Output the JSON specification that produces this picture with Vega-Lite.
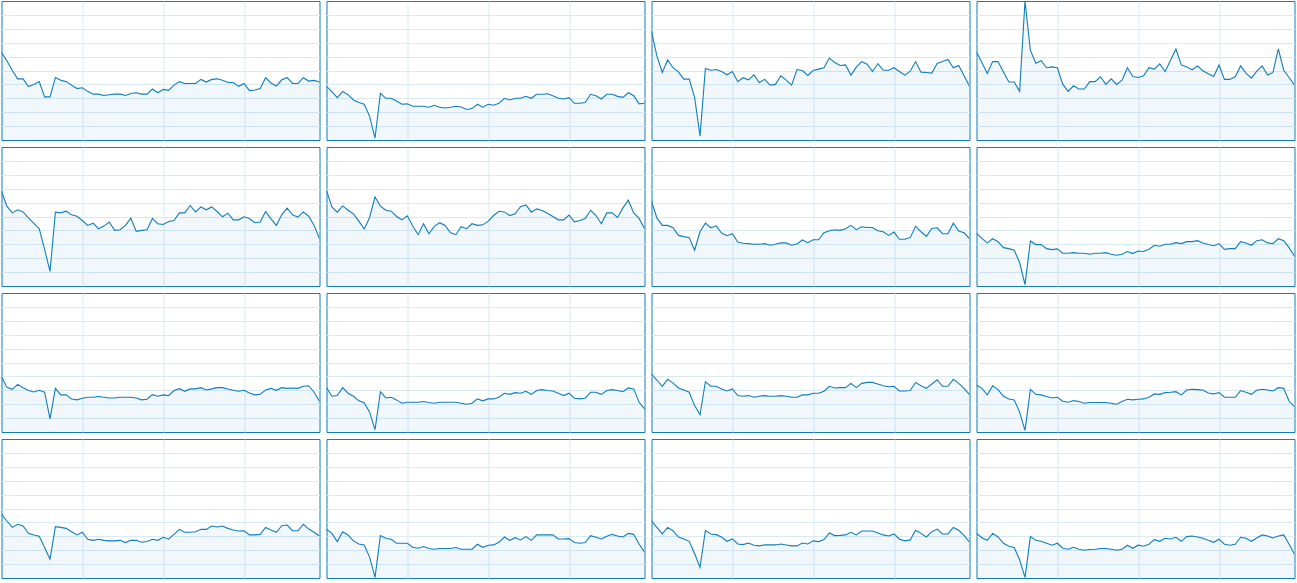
{
"$schema": "https://vega.github.io/schema/vega-lite/v6.json",
"background": "white",
"padding": {"left": 0.5, "top": 0, "right": 0, "bottom": 0},
"data": {"values": [
{"cpu":1,"t":0,"v":63},{"cpu":1,"t":1,"v":57},{"cpu":1,"t":2,"v":50},{"cpu":1,"t":3,"v":44},{"cpu":1,"t":4,"v":44},{"cpu":1,"t":5,"v":38.5},{"cpu":1,"t":6,"v":40},{"cpu":1,"t":7,"v":42},{"cpu":1,"t":8,"v":31},{"cpu":1,"t":9,"v":31},
{"cpu":1,"t":10,"v":45},{"cpu":1,"t":11,"v":43},{"cpu":1,"t":12,"v":42},{"cpu":1,"t":13,"v":39.5},{"cpu":1,"t":14,"v":37},{"cpu":1,"t":15,"v":37.6},{"cpu":1,"t":16,"v":35},{"cpu":1,"t":17,"v":33},{"cpu":1,"t":18,"v":33},{"cpu":1,"t":19,"v":32},
{"cpu":1,"t":20,"v":32.6},{"cpu":1,"t":21,"v":33},{"cpu":1,"t":22,"v":33},{"cpu":1,"t":23,"v":32},{"cpu":1,"t":24,"v":33.5},{"cpu":1,"t":25,"v":34},{"cpu":1,"t":26,"v":33},{"cpu":1,"t":27,"v":33},{"cpu":1,"t":28,"v":36.7},{"cpu":1,"t":29,"v":34},
{"cpu":1,"t":30,"v":36.4},{"cpu":1,"t":31,"v":35.7},{"cpu":1,"t":32,"v":39.5},{"cpu":1,"t":33,"v":42},{"cpu":1,"t":34,"v":40.7},{"cpu":1,"t":35,"v":40.7},{"cpu":1,"t":36,"v":40.7},{"cpu":1,"t":37,"v":43.6},{"cpu":1,"t":38,"v":41.7},{"cpu":1,"t":39,"v":43.6},
{"cpu":1,"t":40,"v":44},{"cpu":1,"t":41,"v":43},{"cpu":1,"t":42,"v":41.4},{"cpu":1,"t":43,"v":41.4},{"cpu":1,"t":44,"v":38.6},{"cpu":1,"t":45,"v":40.7},{"cpu":1,"t":46,"v":35.5},{"cpu":1,"t":47,"v":36},{"cpu":1,"t":48,"v":37},{"cpu":1,"t":49,"v":44.8},
{"cpu":1,"t":50,"v":41},{"cpu":1,"t":51,"v":38.8},{"cpu":1,"t":52,"v":43.3},{"cpu":1,"t":53,"v":44.8},{"cpu":1,"t":54,"v":40.7},{"cpu":1,"t":55,"v":40.7},{"cpu":1,"t":56,"v":44.8},{"cpu":1,"t":57,"v":42.4},{"cpu":1,"t":58,"v":42.9},{"cpu":1,"t":59,"v":41.7},
{"cpu":2,"t":0,"v":38.6},{"cpu":2,"t":1,"v":34.8},{"cpu":2,"t":2,"v":30.5},{"cpu":2,"t":3,"v":35},{"cpu":2,"t":4,"v":32.6},{"cpu":2,"t":5,"v":28.8},{"cpu":2,"t":6,"v":27},{"cpu":2,"t":7,"v":25.7},{"cpu":2,"t":8,"v":17},{"cpu":2,"t":9,"v":1.4},
{"cpu":2,"t":10,"v":33.6},{"cpu":2,"t":11,"v":30},{"cpu":2,"t":12,"v":30},{"cpu":2,"t":13,"v":28},{"cpu":2,"t":14,"v":25.7},{"cpu":2,"t":15,"v":26},{"cpu":2,"t":16,"v":24.3},{"cpu":2,"t":17,"v":24.3},{"cpu":2,"t":18,"v":24.3},{"cpu":2,"t":19,"v":23.6},
{"cpu":2,"t":20,"v":25},{"cpu":2,"t":21,"v":23.6},{"cpu":2,"t":22,"v":23},{"cpu":2,"t":23,"v":23.6},{"cpu":2,"t":24,"v":24.3},{"cpu":2,"t":25,"v":23.8},{"cpu":2,"t":26,"v":22},{"cpu":2,"t":27,"v":22.6},{"cpu":2,"t":28,"v":25.7},{"cpu":2,"t":29,"v":23.6},
{"cpu":2,"t":30,"v":25.7},{"cpu":2,"t":31,"v":25},{"cpu":2,"t":32,"v":26.4},{"cpu":2,"t":33,"v":30},{"cpu":2,"t":34,"v":28.8},{"cpu":2,"t":35,"v":30},{"cpu":2,"t":36,"v":30},{"cpu":2,"t":37,"v":31.4},{"cpu":2,"t":38,"v":30},{"cpu":2,"t":39,"v":32.9},
{"cpu":2,"t":40,"v":32.9},{"cpu":2,"t":41,"v":33.3},{"cpu":2,"t":42,"v":31.9},{"cpu":2,"t":43,"v":30},{"cpu":2,"t":44,"v":29.5},{"cpu":2,"t":45,"v":30.5},{"cpu":2,"t":46,"v":26.4},{"cpu":2,"t":47,"v":26.4},{"cpu":2,"t":48,"v":27},{"cpu":2,"t":49,"v":32.9},
{"cpu":2,"t":50,"v":31.9},{"cpu":2,"t":51,"v":29.5},{"cpu":2,"t":52,"v":32.9},{"cpu":2,"t":53,"v":32.9},{"cpu":2,"t":54,"v":31.4},{"cpu":2,"t":55,"v":30.7},{"cpu":2,"t":56,"v":34},{"cpu":2,"t":57,"v":31.9},{"cpu":2,"t":58,"v":26},{"cpu":2,"t":59,"v":26.4},
{"cpu":3,"t":0,"v":78},{"cpu":3,"t":1,"v":60.5},{"cpu":3,"t":2,"v":48.6},{"cpu":3,"t":3,"v":57.6},{"cpu":3,"t":4,"v":52},{"cpu":3,"t":5,"v":49},{"cpu":3,"t":6,"v":43.8},{"cpu":3,"t":7,"v":43.8},{"cpu":3,"t":8,"v":30.7},{"cpu":3,"t":9,"v":2.9},
{"cpu":3,"t":10,"v":51.4},{"cpu":3,"t":11,"v":50.2},{"cpu":3,"t":12,"v":50.7},{"cpu":3,"t":13,"v":49.3},{"cpu":3,"t":14,"v":46.9},{"cpu":3,"t":15,"v":49.3},{"cpu":3,"t":16,"v":41.9},{"cpu":3,"t":17,"v":44.8},{"cpu":3,"t":18,"v":43.3},{"cpu":3,"t":19,"v":46.9},
{"cpu":3,"t":20,"v":41.4},{"cpu":3,"t":21,"v":43.6},{"cpu":3,"t":22,"v":39.5},{"cpu":3,"t":23,"v":40},{"cpu":3,"t":24,"v":46.2},{"cpu":3,"t":25,"v":43.1},{"cpu":3,"t":26,"v":39.5},{"cpu":3,"t":27,"v":50.7},{"cpu":3,"t":28,"v":50},{"cpu":3,"t":29,"v":46.4},
{"cpu":3,"t":30,"v":50},{"cpu":3,"t":31,"v":51},{"cpu":3,"t":32,"v":52},{"cpu":3,"t":33,"v":59},{"cpu":3,"t":34,"v":55.7},{"cpu":3,"t":35,"v":53.6},{"cpu":3,"t":36,"v":54},{"cpu":3,"t":37,"v":46.7},{"cpu":3,"t":38,"v":52.4},{"cpu":3,"t":39,"v":56.4},
{"cpu":3,"t":40,"v":54.5},{"cpu":3,"t":41,"v":49.3},{"cpu":3,"t":42,"v":55},{"cpu":3,"t":43,"v":50.2},{"cpu":3,"t":44,"v":50.2},{"cpu":3,"t":45,"v":52},{"cpu":3,"t":46,"v":49.3},{"cpu":3,"t":47,"v":46.7},{"cpu":3,"t":48,"v":49.5},{"cpu":3,"t":49,"v":56.4},
{"cpu":3,"t":50,"v":48.8},{"cpu":3,"t":51,"v":48.6},{"cpu":3,"t":52,"v":48.1},{"cpu":3,"t":53,"v":55},{"cpu":3,"t":54,"v":56.4},{"cpu":3,"t":55,"v":57.9},{"cpu":3,"t":56,"v":52},{"cpu":3,"t":57,"v":53.6},{"cpu":3,"t":58,"v":46.2},{"cpu":3,"t":59,"v":38.6},
{"cpu":4,"t":0,"v":63.3},{"cpu":4,"t":1,"v":55.7},{"cpu":4,"t":2,"v":47.9},{"cpu":4,"t":3,"v":56.4},{"cpu":4,"t":4,"v":56.4},{"cpu":4,"t":5,"v":49},{"cpu":4,"t":6,"v":41.7},{"cpu":4,"t":7,"v":41.7},{"cpu":4,"t":8,"v":35},{"cpu":4,"t":9,"v":100},
{"cpu":4,"t":10,"v":64.5},{"cpu":4,"t":11,"v":55.2},{"cpu":4,"t":12,"v":57},{"cpu":4,"t":13,"v":52},{"cpu":4,"t":14,"v":52.6},{"cpu":4,"t":15,"v":52},{"cpu":4,"t":16,"v":40.2},{"cpu":4,"t":17,"v":35},{"cpu":4,"t":18,"v":39},{"cpu":4,"t":19,"v":36.7},
{"cpu":4,"t":20,"v":36.7},{"cpu":4,"t":21,"v":42},{"cpu":4,"t":22,"v":42},{"cpu":4,"t":23,"v":45.5},{"cpu":4,"t":24,"v":40},{"cpu":4,"t":25,"v":44},{"cpu":4,"t":26,"v":40},{"cpu":4,"t":27,"v":43},{"cpu":4,"t":28,"v":52},{"cpu":4,"t":29,"v":45.7},
{"cpu":4,"t":30,"v":45},{"cpu":4,"t":31,"v":46.2},{"cpu":4,"t":32,"v":52},{"cpu":4,"t":33,"v":51},{"cpu":4,"t":34,"v":54.8},{"cpu":4,"t":35,"v":49.3},{"cpu":4,"t":36,"v":57.4},{"cpu":4,"t":37,"v":65.5},{"cpu":4,"t":38,"v":54},{"cpu":4,"t":39,"v":52.6},
{"cpu":4,"t":40,"v":50.5},{"cpu":4,"t":41,"v":53.3},{"cpu":4,"t":42,"v":49.8},{"cpu":4,"t":43,"v":47.6},{"cpu":4,"t":44,"v":45.7},{"cpu":4,"t":45,"v":54},{"cpu":4,"t":46,"v":43.6},{"cpu":4,"t":47,"v":43.6},{"cpu":4,"t":48,"v":45.5},{"cpu":4,"t":49,"v":53.3},
{"cpu":4,"t":50,"v":48.1},{"cpu":4,"t":51,"v":44.5},{"cpu":4,"t":52,"v":49.5},{"cpu":4,"t":53,"v":53.3},{"cpu":4,"t":54,"v":46.7},{"cpu":4,"t":55,"v":48.6},{"cpu":4,"t":56,"v":65.5},{"cpu":4,"t":57,"v":50.2},{"cpu":4,"t":58,"v":45},{"cpu":4,"t":59,"v":39.5},
{"cpu":5,"t":0,"v":68},{"cpu":5,"t":1,"v":57.4},{"cpu":5,"t":2,"v":52.6},{"cpu":5,"t":3,"v":54.8},{"cpu":5,"t":4,"v":53.3},{"cpu":5,"t":5,"v":49},{"cpu":5,"t":6,"v":45},{"cpu":5,"t":7,"v":41.2},{"cpu":5,"t":8,"v":26.4},{"cpu":5,"t":9,"v":10.5},
{"cpu":5,"t":10,"v":53.1},{"cpu":5,"t":11,"v":52.6},{"cpu":5,"t":12,"v":53.8},{"cpu":5,"t":13,"v":51.2},{"cpu":5,"t":14,"v":50.2},{"cpu":5,"t":15,"v":47.1},{"cpu":5,"t":16,"v":43.6},{"cpu":5,"t":17,"v":45.2},{"cpu":5,"t":18,"v":41.2},{"cpu":5,"t":19,"v":43.1},
{"cpu":5,"t":20,"v":46},{"cpu":5,"t":21,"v":40},{"cpu":5,"t":22,"v":40.5},{"cpu":5,"t":23,"v":43.6},{"cpu":5,"t":24,"v":48.8},{"cpu":5,"t":25,"v":39.3},{"cpu":5,"t":26,"v":40},{"cpu":5,"t":27,"v":40.5},{"cpu":5,"t":28,"v":48.6},{"cpu":5,"t":29,"v":44.8},
{"cpu":5,"t":30,"v":44.3},{"cpu":5,"t":31,"v":46.4},{"cpu":5,"t":32,"v":47.1},{"cpu":5,"t":33,"v":52.6},{"cpu":5,"t":34,"v":52.6},{"cpu":5,"t":35,"v":57.9},{"cpu":5,"t":36,"v":53.3},{"cpu":5,"t":37,"v":56.9},{"cpu":5,"t":38,"v":54.8},{"cpu":5,"t":39,"v":56.9},
{"cpu":5,"t":40,"v":53.6},{"cpu":5,"t":41,"v":49.8},{"cpu":5,"t":42,"v":52.4},{"cpu":5,"t":43,"v":47.6},{"cpu":5,"t":44,"v":47.6},{"cpu":5,"t":45,"v":49.8},{"cpu":5,"t":46,"v":48.6},{"cpu":5,"t":47,"v":45.5},{"cpu":5,"t":48,"v":46},{"cpu":5,"t":49,"v":53.6},
{"cpu":5,"t":50,"v":48.3},{"cpu":5,"t":51,"v":43.6},{"cpu":5,"t":52,"v":51.4},{"cpu":5,"t":53,"v":56},{"cpu":5,"t":54,"v":51.2},{"cpu":5,"t":55,"v":49.5},{"cpu":5,"t":56,"v":53.3},{"cpu":5,"t":57,"v":50.2},{"cpu":5,"t":58,"v":43.6},{"cpu":5,"t":59,"v":34},
{"cpu":6,"t":0,"v":68.8},{"cpu":6,"t":1,"v":56.9},{"cpu":6,"t":2,"v":53.1},{"cpu":6,"t":3,"v":57.6},{"cpu":6,"t":4,"v":54.5},{"cpu":6,"t":5,"v":51.9},{"cpu":6,"t":6,"v":46.7},{"cpu":6,"t":7,"v":41},{"cpu":6,"t":8,"v":49.3},{"cpu":6,"t":9,"v":64},
{"cpu":6,"t":10,"v":57.4},{"cpu":6,"t":11,"v":54.5},{"cpu":6,"t":12,"v":53.8},{"cpu":6,"t":13,"v":50},{"cpu":6,"t":14,"v":47.6},{"cpu":6,"t":15,"v":50.5},{"cpu":6,"t":16,"v":43.1},{"cpu":6,"t":17,"v":36.9},{"cpu":6,"t":18,"v":44.8},{"cpu":6,"t":19,"v":37.6},
{"cpu":6,"t":20,"v":42.9},{"cpu":6,"t":21,"v":45.5},{"cpu":6,"t":22,"v":43.6},{"cpu":6,"t":23,"v":38.3},{"cpu":6,"t":24,"v":36.9},{"cpu":6,"t":25,"v":42.6},{"cpu":6,"t":26,"v":41.2},{"cpu":6,"t":27,"v":44.8},{"cpu":6,"t":28,"v":43.6},{"cpu":6,"t":29,"v":44},
{"cpu":6,"t":30,"v":46.7},{"cpu":6,"t":31,"v":50.7},{"cpu":6,"t":32,"v":53.8},{"cpu":6,"t":33,"v":53.3},{"cpu":6,"t":34,"v":50.7},{"cpu":6,"t":35,"v":51.9},{"cpu":6,"t":36,"v":57.1},{"cpu":6,"t":37,"v":58.3},{"cpu":6,"t":38,"v":53.1},{"cpu":6,"t":39,"v":55.5},
{"cpu":6,"t":40,"v":54.3},{"cpu":6,"t":41,"v":52.4},{"cpu":6,"t":42,"v":50},{"cpu":6,"t":43,"v":47.6},{"cpu":6,"t":44,"v":47.6},{"cpu":6,"t":45,"v":51},{"cpu":6,"t":46,"v":46.2},{"cpu":6,"t":47,"v":47.1},{"cpu":6,"t":48,"v":48.6},{"cpu":6,"t":49,"v":54.5},
{"cpu":6,"t":50,"v":50.7},{"cpu":6,"t":51,"v":44.8},{"cpu":6,"t":52,"v":52.6},{"cpu":6,"t":53,"v":52.6},{"cpu":6,"t":54,"v":49.3},{"cpu":6,"t":55,"v":56.2},{"cpu":6,"t":56,"v":61.7},{"cpu":6,"t":57,"v":52.6},{"cpu":6,"t":58,"v":48.6},{"cpu":6,"t":59,"v":41.2},
{"cpu":7,"t":0,"v":61},{"cpu":7,"t":1,"v":49},{"cpu":7,"t":2,"v":43.6},{"cpu":7,"t":3,"v":43.6},{"cpu":7,"t":4,"v":41.9},{"cpu":7,"t":5,"v":36.4},{"cpu":7,"t":6,"v":35.5},{"cpu":7,"t":7,"v":34.8},{"cpu":7,"t":8,"v":25.7},{"cpu":7,"t":9,"v":39},
{"cpu":7,"t":10,"v":45.2},{"cpu":7,"t":11,"v":41.9},{"cpu":7,"t":12,"v":43.3},{"cpu":7,"t":13,"v":38.1},{"cpu":7,"t":14,"v":36.2},{"cpu":7,"t":15,"v":37.6},{"cpu":7,"t":16,"v":31.7},{"cpu":7,"t":17,"v":30.7},{"cpu":7,"t":18,"v":30.5},{"cpu":7,"t":19,"v":30},
{"cpu":7,"t":20,"v":30},{"cpu":7,"t":21,"v":30.5},{"cpu":7,"t":22,"v":29.3},{"cpu":7,"t":23,"v":30},{"cpu":7,"t":24,"v":31},{"cpu":7,"t":25,"v":31},{"cpu":7,"t":26,"v":29.3},{"cpu":7,"t":27,"v":30.2},{"cpu":7,"t":28,"v":33.1},{"cpu":7,"t":29,"v":31.2},
{"cpu":7,"t":30,"v":33.3},{"cpu":7,"t":31,"v":33.3},{"cpu":7,"t":32,"v":38.3},{"cpu":7,"t":33,"v":39.8},{"cpu":7,"t":34,"v":40.5},{"cpu":7,"t":35,"v":40},{"cpu":7,"t":36,"v":41.2},{"cpu":7,"t":37,"v":43.6},{"cpu":7,"t":38,"v":40.5},{"cpu":7,"t":39,"v":42.6},
{"cpu":7,"t":40,"v":42.1},{"cpu":7,"t":41,"v":42.1},{"cpu":7,"t":42,"v":39.8},{"cpu":7,"t":43,"v":39},{"cpu":7,"t":44,"v":36.4},{"cpu":7,"t":45,"v":38.8},{"cpu":7,"t":46,"v":33.6},{"cpu":7,"t":47,"v":33.6},{"cpu":7,"t":48,"v":34.8},{"cpu":7,"t":49,"v":43.1},
{"cpu":7,"t":50,"v":39},{"cpu":7,"t":51,"v":35.7},{"cpu":7,"t":52,"v":41.4},{"cpu":7,"t":53,"v":41.9},{"cpu":7,"t":54,"v":37.6},{"cpu":7,"t":55,"v":37.6},{"cpu":7,"t":56,"v":45.2},{"cpu":7,"t":57,"v":39.5},{"cpu":7,"t":58,"v":38.3},{"cpu":7,"t":59,"v":34},
{"cpu":8,"t":0,"v":37.9},{"cpu":8,"t":1,"v":34.3},{"cpu":8,"t":2,"v":31},{"cpu":8,"t":3,"v":34},{"cpu":8,"t":4,"v":31.9},{"cpu":8,"t":5,"v":27.6},{"cpu":8,"t":6,"v":26.9},{"cpu":8,"t":7,"v":25.7},{"cpu":8,"t":8,"v":16.9},{"cpu":8,"t":9,"v":1},
{"cpu":8,"t":10,"v":32.4},{"cpu":8,"t":11,"v":29.8},{"cpu":8,"t":12,"v":29.8},{"cpu":8,"t":13,"v":26.9},{"cpu":8,"t":14,"v":26.2},{"cpu":8,"t":15,"v":26.7},{"cpu":8,"t":16,"v":23.6},{"cpu":8,"t":17,"v":23.6},{"cpu":8,"t":18,"v":24},{"cpu":8,"t":19,"v":23.6},
{"cpu":8,"t":20,"v":23.6},{"cpu":8,"t":21,"v":22.9},{"cpu":8,"t":22,"v":23.6},{"cpu":8,"t":23,"v":23.6},{"cpu":8,"t":24,"v":24},{"cpu":8,"t":25,"v":22.9},{"cpu":8,"t":26,"v":22.1},{"cpu":8,"t":27,"v":22.9},{"cpu":8,"t":28,"v":24.8},{"cpu":8,"t":29,"v":23.3},
{"cpu":8,"t":30,"v":25.2},{"cpu":8,"t":31,"v":24.8},{"cpu":8,"t":32,"v":26.4},{"cpu":8,"t":33,"v":29.3},{"cpu":8,"t":34,"v":28.6},{"cpu":8,"t":35,"v":30},{"cpu":8,"t":36,"v":30},{"cpu":8,"t":37,"v":31.2},{"cpu":8,"t":38,"v":30.5},{"cpu":8,"t":39,"v":31.9},
{"cpu":8,"t":40,"v":31.9},{"cpu":8,"t":41,"v":32.6},{"cpu":8,"t":42,"v":31},{"cpu":8,"t":43,"v":29.8},{"cpu":8,"t":44,"v":29},{"cpu":8,"t":45,"v":30.5},{"cpu":8,"t":46,"v":26.4},{"cpu":8,"t":47,"v":26.9},{"cpu":8,"t":48,"v":26.9},{"cpu":8,"t":49,"v":31.9},
{"cpu":8,"t":50,"v":31},{"cpu":8,"t":51,"v":29.3},{"cpu":8,"t":52,"v":32.6},{"cpu":8,"t":53,"v":33.3},{"cpu":8,"t":54,"v":31},{"cpu":8,"t":55,"v":30.5},{"cpu":8,"t":56,"v":34},{"cpu":8,"t":57,"v":32.6},{"cpu":8,"t":58,"v":27.6},{"cpu":8,"t":59,"v":21.4},
{"cpu":9,"t":0,"v":40},{"cpu":9,"t":1,"v":32.1},{"cpu":9,"t":2,"v":30.7},{"cpu":9,"t":3,"v":34.3},{"cpu":9,"t":4,"v":31.9},{"cpu":9,"t":5,"v":29.8},{"cpu":9,"t":6,"v":28.8},{"cpu":9,"t":7,"v":30},{"cpu":9,"t":8,"v":28.6},{"cpu":9,"t":9,"v":9.5},
{"cpu":9,"t":10,"v":31.4},{"cpu":9,"t":11,"v":26.7},{"cpu":9,"t":12,"v":26.7},{"cpu":9,"t":13,"v":23.8},{"cpu":9,"t":14,"v":23.1},{"cpu":9,"t":15,"v":24.3},{"cpu":9,"t":16,"v":25},{"cpu":9,"t":17,"v":25},{"cpu":9,"t":18,"v":25.5},{"cpu":9,"t":19,"v":25},
{"cpu":9,"t":20,"v":24.5},{"cpu":9,"t":21,"v":24.5},{"cpu":9,"t":22,"v":25},{"cpu":9,"t":23,"v":25},{"cpu":9,"t":24,"v":25},{"cpu":9,"t":25,"v":24.5},{"cpu":9,"t":26,"v":23.1},{"cpu":9,"t":27,"v":23.6},{"cpu":9,"t":28,"v":26.9},{"cpu":9,"t":29,"v":25.7},
{"cpu":9,"t":30,"v":26.7},{"cpu":9,"t":31,"v":26.2},{"cpu":9,"t":32,"v":29.8},{"cpu":9,"t":33,"v":31.2},{"cpu":9,"t":34,"v":29.3},{"cpu":9,"t":35,"v":31},{"cpu":9,"t":36,"v":31},{"cpu":9,"t":37,"v":31.9},{"cpu":9,"t":38,"v":30.2},{"cpu":9,"t":39,"v":31},
{"cpu":9,"t":40,"v":31.9},{"cpu":9,"t":41,"v":31.9},{"cpu":9,"t":42,"v":31},{"cpu":9,"t":43,"v":30},{"cpu":9,"t":44,"v":29.3},{"cpu":9,"t":45,"v":30},{"cpu":9,"t":46,"v":28.1},{"cpu":9,"t":47,"v":26.7},{"cpu":9,"t":48,"v":27.1},{"cpu":9,"t":49,"v":30.2},
{"cpu":9,"t":50,"v":31.4},{"cpu":9,"t":51,"v":30},{"cpu":9,"t":52,"v":31.9},{"cpu":9,"t":53,"v":31.4},{"cpu":9,"t":54,"v":31.7},{"cpu":9,"t":55,"v":31.4},{"cpu":9,"t":56,"v":32.9},{"cpu":9,"t":57,"v":33.3},{"cpu":9,"t":58,"v":28.6},{"cpu":9,"t":59,"v":21.9},
{"cpu":10,"t":0,"v":31.9},{"cpu":10,"t":1,"v":25.7},{"cpu":10,"t":2,"v":26.2},{"cpu":10,"t":3,"v":31.9},{"cpu":10,"t":4,"v":27.9},{"cpu":10,"t":5,"v":25.7},{"cpu":10,"t":6,"v":22.4},{"cpu":10,"t":7,"v":21},{"cpu":10,"t":8,"v":14.3},{"cpu":10,"t":9,"v":1.7},
{"cpu":10,"t":10,"v":29},{"cpu":10,"t":11,"v":24.5},{"cpu":10,"t":12,"v":25},{"cpu":10,"t":13,"v":23.1},{"cpu":10,"t":14,"v":20.7},{"cpu":10,"t":15,"v":21.4},{"cpu":10,"t":16,"v":21.4},{"cpu":10,"t":17,"v":21.4},{"cpu":10,"t":18,"v":21.9},{"cpu":10,"t":19,"v":21.2},
{"cpu":10,"t":20,"v":20.7},{"cpu":10,"t":21,"v":21.4},{"cpu":10,"t":22,"v":21.4},{"cpu":10,"t":23,"v":21.4},{"cpu":10,"t":24,"v":21.4},{"cpu":10,"t":25,"v":20.7},{"cpu":10,"t":26,"v":20},{"cpu":10,"t":27,"v":20.7},{"cpu":10,"t":28,"v":23.8},{"cpu":10,"t":29,"v":22.4},
{"cpu":10,"t":30,"v":23.8},{"cpu":10,"t":31,"v":23.8},{"cpu":10,"t":32,"v":25},{"cpu":10,"t":33,"v":27.9},{"cpu":10,"t":34,"v":27.1},{"cpu":10,"t":35,"v":28.3},{"cpu":10,"t":36,"v":27.9},{"cpu":10,"t":37,"v":29.3},{"cpu":10,"t":38,"v":27.1},{"cpu":10,"t":39,"v":29.8},
{"cpu":10,"t":40,"v":30.5},{"cpu":10,"t":41,"v":29.8},{"cpu":10,"t":42,"v":29.5},{"cpu":10,"t":43,"v":27.9},{"cpu":10,"t":44,"v":26.2},{"cpu":10,"t":45,"v":27.9},{"cpu":10,"t":46,"v":24.3},{"cpu":10,"t":47,"v":23.8},{"cpu":10,"t":48,"v":24.3},{"cpu":10,"t":49,"v":28.6},
{"cpu":10,"t":50,"v":28.6},{"cpu":10,"t":51,"v":27.1},{"cpu":10,"t":52,"v":29.8},{"cpu":10,"t":53,"v":30.5},{"cpu":10,"t":54,"v":29.8},{"cpu":10,"t":55,"v":29},{"cpu":10,"t":56,"v":31.7},{"cpu":10,"t":57,"v":31},{"cpu":10,"t":58,"v":21.4},{"cpu":10,"t":59,"v":16.7},
{"cpu":11,"t":0,"v":41.7},{"cpu":11,"t":1,"v":37.4},{"cpu":11,"t":2,"v":32.9},{"cpu":11,"t":3,"v":37.9},{"cpu":11,"t":4,"v":35.2},{"cpu":11,"t":5,"v":31.7},{"cpu":11,"t":6,"v":30.2},{"cpu":11,"t":7,"v":28.6},{"cpu":11,"t":8,"v":19},{"cpu":11,"t":9,"v":12.4},
{"cpu":11,"t":10,"v":36.2},{"cpu":11,"t":11,"v":32.9},{"cpu":11,"t":12,"v":32.9},{"cpu":11,"t":13,"v":31},{"cpu":11,"t":14,"v":29.5},{"cpu":11,"t":15,"v":31},{"cpu":11,"t":16,"v":26.2},{"cpu":11,"t":17,"v":25.7},{"cpu":11,"t":18,"v":26.2},{"cpu":11,"t":19,"v":25},
{"cpu":11,"t":20,"v":25.7},{"cpu":11,"t":21,"v":26.2},{"cpu":11,"t":22,"v":25.7},{"cpu":11,"t":23,"v":25.7},{"cpu":11,"t":24,"v":26.2},{"cpu":11,"t":25,"v":25.7},{"cpu":11,"t":26,"v":25},{"cpu":11,"t":27,"v":25},{"cpu":11,"t":28,"v":26.7},{"cpu":11,"t":29,"v":26.7},
{"cpu":11,"t":30,"v":27.9},{"cpu":11,"t":31,"v":27.9},{"cpu":11,"t":32,"v":29.3},{"cpu":11,"t":33,"v":32.9},{"cpu":11,"t":34,"v":31.7},{"cpu":11,"t":35,"v":31.9},{"cpu":11,"t":36,"v":31.9},{"cpu":11,"t":37,"v":35},{"cpu":11,"t":38,"v":31.9},{"cpu":11,"t":39,"v":35},
{"cpu":11,"t":40,"v":35.7},{"cpu":11,"t":41,"v":35.7},{"cpu":11,"t":42,"v":34.5},{"cpu":11,"t":43,"v":33.3},{"cpu":11,"t":44,"v":32.6},{"cpu":11,"t":45,"v":32.9},{"cpu":11,"t":46,"v":29.5},{"cpu":11,"t":47,"v":29.5},{"cpu":11,"t":48,"v":29.8},{"cpu":11,"t":49,"v":35.7},
{"cpu":11,"t":50,"v":33.3},{"cpu":11,"t":51,"v":31.4},{"cpu":11,"t":52,"v":34.5},{"cpu":11,"t":53,"v":37.6},{"cpu":11,"t":54,"v":32.9},{"cpu":11,"t":55,"v":32.9},{"cpu":11,"t":56,"v":37.9},{"cpu":11,"t":57,"v":35},{"cpu":11,"t":58,"v":31.4},{"cpu":11,"t":59,"v":26.9},
{"cpu":12,"t":0,"v":33.8},{"cpu":12,"t":1,"v":31.4},{"cpu":12,"t":2,"v":26.7},{"cpu":12,"t":3,"v":33.3},{"cpu":12,"t":4,"v":30.5},{"cpu":12,"t":5,"v":25.7},{"cpu":12,"t":6,"v":23.8},{"cpu":12,"t":7,"v":23.1},{"cpu":12,"t":8,"v":14.3},{"cpu":12,"t":9,"v":1.2},
{"cpu":12,"t":10,"v":30.7},{"cpu":12,"t":11,"v":27.1},{"cpu":12,"t":12,"v":26.7},{"cpu":12,"t":13,"v":25.5},{"cpu":12,"t":14,"v":24.5},{"cpu":12,"t":15,"v":25},{"cpu":12,"t":16,"v":22.1},{"cpu":12,"t":17,"v":21.4},{"cpu":12,"t":18,"v":22.6},{"cpu":12,"t":19,"v":21.9},
{"cpu":12,"t":20,"v":20.7},{"cpu":12,"t":21,"v":21.2},{"cpu":12,"t":22,"v":21.2},{"cpu":12,"t":23,"v":21.2},{"cpu":12,"t":24,"v":21.2},{"cpu":12,"t":25,"v":20.7},{"cpu":12,"t":26,"v":20},{"cpu":12,"t":27,"v":21.9},{"cpu":12,"t":28,"v":23.6},{"cpu":12,"t":29,"v":23.1},
{"cpu":12,"t":30,"v":23.6},{"cpu":12,"t":31,"v":23.8},{"cpu":12,"t":32,"v":25},{"cpu":12,"t":33,"v":27.4},{"cpu":12,"t":34,"v":27.1},{"cpu":12,"t":35,"v":28.3},{"cpu":12,"t":36,"v":28.6},{"cpu":12,"t":37,"v":29},{"cpu":12,"t":38,"v":26.7},{"cpu":12,"t":39,"v":30.2},
{"cpu":12,"t":40,"v":30.7},{"cpu":12,"t":41,"v":30.5},{"cpu":12,"t":42,"v":30.2},{"cpu":12,"t":43,"v":28.1},{"cpu":12,"t":44,"v":27.4},{"cpu":12,"t":45,"v":28.3},{"cpu":12,"t":46,"v":25},{"cpu":12,"t":47,"v":25},{"cpu":12,"t":48,"v":25},{"cpu":12,"t":49,"v":29.8},
{"cpu":12,"t":50,"v":28.6},{"cpu":12,"t":51,"v":27.1},{"cpu":12,"t":52,"v":30},{"cpu":12,"t":53,"v":30.7},{"cpu":12,"t":54,"v":30.2},{"cpu":12,"t":55,"v":29.5},{"cpu":12,"t":56,"v":31.9},{"cpu":12,"t":57,"v":31.4},{"cpu":12,"t":58,"v":22.1},{"cpu":12,"t":59,"v":18.3},
{"cpu":13,"t":0,"v":46},{"cpu":13,"t":1,"v":41},{"cpu":13,"t":2,"v":36.4},{"cpu":13,"t":3,"v":38.6},{"cpu":13,"t":4,"v":37.4},{"cpu":13,"t":5,"v":32.1},{"cpu":13,"t":6,"v":31},{"cpu":13,"t":7,"v":30},{"cpu":13,"t":8,"v":21.9},{"cpu":13,"t":9,"v":13.6},
{"cpu":13,"t":10,"v":36.9},{"cpu":13,"t":11,"v":36.4},{"cpu":13,"t":12,"v":35.7},{"cpu":13,"t":13,"v":33.3},{"cpu":13,"t":14,"v":31},{"cpu":13,"t":15,"v":32.9},{"cpu":13,"t":16,"v":27.9},{"cpu":13,"t":17,"v":27.1},{"cpu":13,"t":18,"v":27.9},{"cpu":13,"t":19,"v":27.1},
{"cpu":13,"t":20,"v":26.7},{"cpu":13,"t":21,"v":26.7},{"cpu":13,"t":22,"v":27.1},{"cpu":13,"t":23,"v":25.5},{"cpu":13,"t":24,"v":27.1},{"cpu":13,"t":25,"v":27.1},{"cpu":13,"t":26,"v":25.7},{"cpu":13,"t":27,"v":26.2},{"cpu":13,"t":28,"v":27.9},{"cpu":13,"t":29,"v":27.1},
{"cpu":13,"t":30,"v":29.3},{"cpu":13,"t":31,"v":27.9},{"cpu":13,"t":32,"v":31.4},{"cpu":13,"t":33,"v":35},{"cpu":13,"t":34,"v":32.9},{"cpu":13,"t":35,"v":32.9},{"cpu":13,"t":36,"v":33.3},{"cpu":13,"t":37,"v":35},{"cpu":13,"t":38,"v":35},{"cpu":13,"t":39,"v":37.4},
{"cpu":13,"t":40,"v":36.7},{"cpu":13,"t":41,"v":37.4},{"cpu":13,"t":42,"v":35.7},{"cpu":13,"t":43,"v":34.5},{"cpu":13,"t":44,"v":33.8},{"cpu":13,"t":45,"v":34},{"cpu":13,"t":46,"v":31},{"cpu":13,"t":47,"v":31},{"cpu":13,"t":48,"v":31.4},{"cpu":13,"t":49,"v":36.4},
{"cpu":13,"t":50,"v":34.5},{"cpu":13,"t":51,"v":32.9},{"cpu":13,"t":52,"v":37.6},{"cpu":13,"t":53,"v":38.1},{"cpu":13,"t":54,"v":34},{"cpu":13,"t":55,"v":34},{"cpu":13,"t":56,"v":38.6},{"cpu":13,"t":57,"v":35.2},{"cpu":13,"t":58,"v":32.9},{"cpu":13,"t":59,"v":30.2},
{"cpu":14,"t":0,"v":35.2},{"cpu":14,"t":1,"v":32.1},{"cpu":14,"t":2,"v":26.2},{"cpu":14,"t":3,"v":33.3},{"cpu":14,"t":4,"v":31},{"cpu":14,"t":5,"v":26.7},{"cpu":14,"t":6,"v":24.5},{"cpu":14,"t":7,"v":23.8},{"cpu":14,"t":8,"v":15},{"cpu":14,"t":9,"v":0.5},
{"cpu":14,"t":10,"v":30.5},{"cpu":14,"t":11,"v":28.6},{"cpu":14,"t":12,"v":27.9},{"cpu":14,"t":13,"v":25},{"cpu":14,"t":14,"v":25},{"cpu":14,"t":15,"v":25},{"cpu":14,"t":16,"v":22.1},{"cpu":14,"t":17,"v":21.4},{"cpu":14,"t":18,"v":22.6},{"cpu":14,"t":19,"v":21.2},
{"cpu":14,"t":20,"v":20.7},{"cpu":14,"t":21,"v":21.2},{"cpu":14,"t":22,"v":21.2},{"cpu":14,"t":23,"v":21.2},{"cpu":14,"t":24,"v":21.9},{"cpu":14,"t":25,"v":20.7},{"cpu":14,"t":26,"v":20.7},{"cpu":14,"t":27,"v":20.7},{"cpu":14,"t":28,"v":24.3},{"cpu":14,"t":29,"v":22.1},
{"cpu":14,"t":30,"v":23.6},{"cpu":14,"t":31,"v":23.8},{"cpu":14,"t":32,"v":25.7},{"cpu":14,"t":33,"v":29.5},{"cpu":14,"t":34,"v":27.1},{"cpu":14,"t":35,"v":29},{"cpu":14,"t":36,"v":27.4},{"cpu":14,"t":37,"v":29.8},{"cpu":14,"t":38,"v":27.1},{"cpu":14,"t":39,"v":31},
{"cpu":14,"t":40,"v":31},{"cpu":14,"t":41,"v":31},{"cpu":14,"t":42,"v":31},{"cpu":14,"t":43,"v":28.1},{"cpu":14,"t":44,"v":28.1},{"cpu":14,"t":45,"v":28.3},{"cpu":14,"t":46,"v":25.5},{"cpu":14,"t":47,"v":25},{"cpu":14,"t":48,"v":25.5},{"cpu":14,"t":49,"v":30.5},
{"cpu":14,"t":50,"v":29.3},{"cpu":14,"t":51,"v":28.1},{"cpu":14,"t":52,"v":30},{"cpu":14,"t":53,"v":31.4},{"cpu":14,"t":54,"v":30.2},{"cpu":14,"t":55,"v":29.5},{"cpu":14,"t":56,"v":32.1},{"cpu":14,"t":57,"v":31.4},{"cpu":14,"t":58,"v":24.5},{"cpu":14,"t":59,"v":18.6},
{"cpu":15,"t":0,"v":41.2},{"cpu":15,"t":1,"v":36.4},{"cpu":15,"t":2,"v":31.7},{"cpu":15,"t":3,"v":36.4},{"cpu":15,"t":4,"v":34},{"cpu":15,"t":5,"v":29.5},{"cpu":15,"t":6,"v":28.1},{"cpu":15,"t":7,"v":26.4},{"cpu":15,"t":8,"v":17.6},{"cpu":15,"t":9,"v":7.6},
{"cpu":15,"t":10,"v":34.3},{"cpu":15,"t":11,"v":31.7},{"cpu":15,"t":12,"v":31.2},{"cpu":15,"t":13,"v":29.5},{"cpu":15,"t":14,"v":26.4},{"cpu":15,"t":15,"v":28.1},{"cpu":15,"t":16,"v":24.5},{"cpu":15,"t":17,"v":24},{"cpu":15,"t":18,"v":25.2},{"cpu":15,"t":19,"v":23.6},
{"cpu":15,"t":20,"v":23.1},{"cpu":15,"t":21,"v":23.8},{"cpu":15,"t":22,"v":23.8},{"cpu":15,"t":23,"v":23.8},{"cpu":15,"t":24,"v":24.5},{"cpu":15,"t":25,"v":23.8},{"cpu":15,"t":26,"v":23.1},{"cpu":15,"t":27,"v":23.1},{"cpu":15,"t":28,"v":25.2},{"cpu":15,"t":29,"v":24.5},
{"cpu":15,"t":30,"v":26.7},{"cpu":15,"t":31,"v":26.2},{"cpu":15,"t":32,"v":27.6},{"cpu":15,"t":33,"v":32.4},{"cpu":15,"t":34,"v":30.5},{"cpu":15,"t":35,"v":30.7},{"cpu":15,"t":36,"v":31},{"cpu":15,"t":37,"v":32.9},{"cpu":15,"t":38,"v":31},{"cpu":15,"t":39,"v":33.8},
{"cpu":15,"t":40,"v":33.8},{"cpu":15,"t":41,"v":33.8},{"cpu":15,"t":42,"v":32.4},{"cpu":15,"t":43,"v":31},{"cpu":15,"t":44,"v":30.2},{"cpu":15,"t":45,"v":31.7},{"cpu":15,"t":46,"v":27.9},{"cpu":15,"t":47,"v":26.7},{"cpu":15,"t":48,"v":27.4},{"cpu":15,"t":49,"v":34.3},
{"cpu":15,"t":50,"v":32.1},{"cpu":15,"t":51,"v":29.5},{"cpu":15,"t":52,"v":33.3},{"cpu":15,"t":53,"v":35.2},{"cpu":15,"t":54,"v":31.7},{"cpu":15,"t":55,"v":31.7},{"cpu":15,"t":56,"v":36.4},{"cpu":15,"t":57,"v":34.3},{"cpu":15,"t":58,"v":30.7},{"cpu":15,"t":59,"v":25.7},
{"cpu":16,"t":0,"v":32.1},{"cpu":16,"t":1,"v":29},{"cpu":16,"t":2,"v":27.1},{"cpu":16,"t":3,"v":32.1},{"cpu":16,"t":4,"v":29.5},{"cpu":16,"t":5,"v":25},{"cpu":16,"t":6,"v":22.9},{"cpu":16,"t":7,"v":21.9},{"cpu":16,"t":8,"v":13.1},{"cpu":16,"t":9,"v":0.5},
{"cpu":16,"t":10,"v":29.8},{"cpu":16,"t":11,"v":27.1},{"cpu":16,"t":12,"v":26.4},{"cpu":16,"t":13,"v":25},{"cpu":16,"t":14,"v":23.6},{"cpu":16,"t":15,"v":25},{"cpu":16,"t":16,"v":21.4},{"cpu":16,"t":17,"v":20.7},{"cpu":16,"t":18,"v":22.1},{"cpu":16,"t":19,"v":20.7},
{"cpu":16,"t":20,"v":20},{"cpu":16,"t":21,"v":20.5},{"cpu":16,"t":22,"v":20.7},{"cpu":16,"t":23,"v":21.2},{"cpu":16,"t":24,"v":21.2},{"cpu":16,"t":25,"v":20.7},{"cpu":16,"t":26,"v":20},{"cpu":16,"t":27,"v":20.7},{"cpu":16,"t":28,"v":23.6},{"cpu":16,"t":29,"v":21.4},
{"cpu":16,"t":30,"v":23.6},{"cpu":16,"t":31,"v":22.9},{"cpu":16,"t":32,"v":24.3},{"cpu":16,"t":33,"v":27.6},{"cpu":16,"t":34,"v":26.4},{"cpu":16,"t":35,"v":28.6},{"cpu":16,"t":36,"v":28.1},{"cpu":16,"t":37,"v":29.3},{"cpu":16,"t":38,"v":26.4},{"cpu":16,"t":39,"v":29.8},
{"cpu":16,"t":40,"v":30.2},{"cpu":16,"t":41,"v":29.5},{"cpu":16,"t":42,"v":28.6},{"cpu":16,"t":43,"v":27.1},{"cpu":16,"t":44,"v":25.7},{"cpu":16,"t":45,"v":27.9},{"cpu":16,"t":46,"v":24.3},{"cpu":16,"t":47,"v":23.6},{"cpu":16,"t":48,"v":24.3},{"cpu":16,"t":49,"v":29.3},
{"cpu":16,"t":50,"v":28.6},{"cpu":16,"t":51,"v":26.4},{"cpu":16,"t":52,"v":28.8},{"cpu":16,"t":53,"v":31},{"cpu":16,"t":54,"v":30.2},{"cpu":16,"t":55,"v":28.8},{"cpu":16,"t":56,"v":30.2},{"cpu":16,"t":57,"v":31},{"cpu":16,"t":58,"v":24.3},{"cpu":16,"t":59,"v":17.1}
]},
"facet": {"field": "cpu", "type": "ordinal", "title": null, "header": {"title": null, "labels": false, "labelExpr": "''", "labelFontSize": 0, "labelPadding": 0, "titlePadding": 0}},
"columns": 4,
"spacing": {"column": 5, "row": 5},
"spec": {
  "width": 318,
  "height": 139,
  "mark": {"type": "area", "color": "#117dbb", "fillOpacity": 0.06, "line": {"color": "#117dbb", "strokeWidth": 1.1}, "clip": true},
  "encoding": {
    "x": {"field": "t", "type": "quantitative", "scale": {"domain": [0, 59], "nice": false, "zero": false},
          "axis": {"title": null, "labels": false, "ticks": false, "domain": false, "grid": true, "values": [15, 30.1, 45.1], "gridColor": "#d9eaf4", "gridWidth": 1, "gridOpacity": 1}},
    "y": {"field": "v", "type": "quantitative", "scale": {"domain": [0, 100], "nice": false},
          "axis": {"title": null, "labels": false, "ticks": false, "domain": false, "grid": true, "values": [10, 20, 30, 40, 50, 60, 70, 80, 90], "gridColor": "#d9eaf4", "gridWidth": 1, "gridOpacity": 1}}
  }
},
"config": {"view": {"stroke": "#117dbb", "strokeWidth": 1}, "axis": {"labelPadding": 0, "tickSize": 0}, "header": {"labels": false, "title": null, "labelFontSize": 0, "labelPadding": 0}, "headerFacet": {"labels": false, "title": null, "labelFontSize": 0, "labelPadding": 0}}
}
